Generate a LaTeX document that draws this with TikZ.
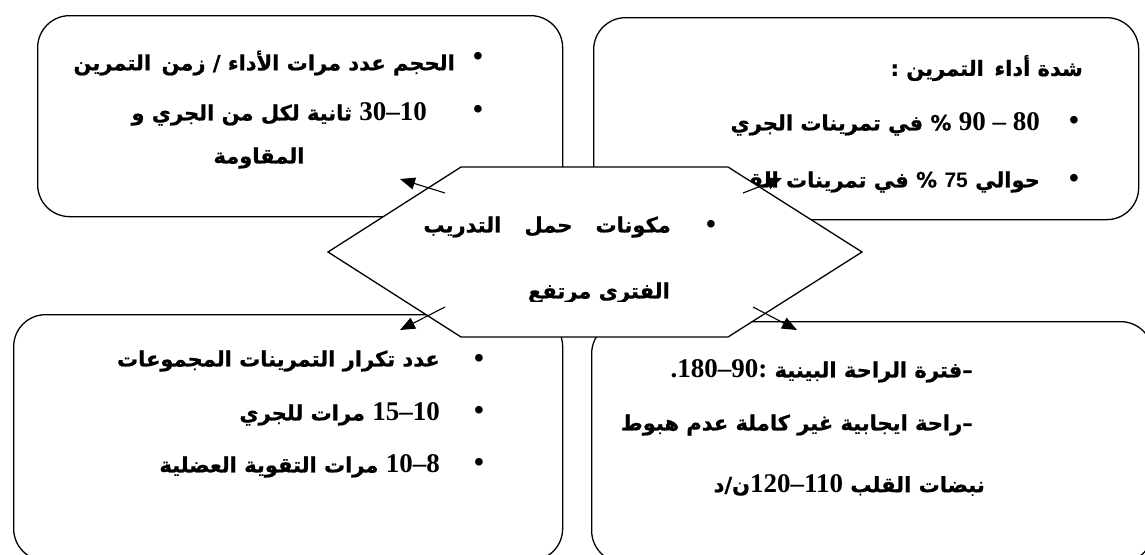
\documentclass[tikz,border=0pt]{standalone}
\usepackage{fontspec}
\usetikzlibrary{arrows.meta}
\TeXXeTstate=1
\newfontfamily\arfont[Script=Arabic, BoldFeatures={FakeBold=0.8}]{DejaVu Sans}
\newfontfamily\numfont{Liberation Serif}
\newfontfamily\sansnum{Liberation Sans}
\newcommand\Nm[1]{\beginL{\numfont\bfseries\fontsize{27}{30}\selectfont #1}\endL}
\tikzset{
  box/.style={draw, line width=1.3pt, rounded corners=32pt, anchor=north west, inner sep=0pt},
  hexa/.style={draw, line width=1.3pt, fill=white},
  conn/.style={line width=1.1pt, -{Triangle[length=15pt,width=12pt]}},
  txt/.style={inner sep=0pt, font=\arfont\bfseries\fontsize{21}{24}\selectfont},
  bul/.style={inner sep=0pt, font=\sansnum\fontsize{28}{30}\selectfont}
}
\begin{document}
\begin{tikzpicture}[x=1pt,y=-1pt]
\useasboundingbox (0,0) rectangle (1145,554);
\clip (0,0) rectangle (1145,554);
% boxes
\node[box, minimum width=525pt, minimum height=201pt] (tl) at (37,15) {};
\node[box, minimum width=545pt, minimum height=202pt] (tr) at (593,17) {};
\node[box, minimum width=549pt, minimum height=246pt] (bl) at (13,314) {};
\node[box, minimum width=561pt, minimum height=241pt] (br) at (591,321) {};
% top-left texts
\node[bul] (tlb1) at (478,59) {•};
\node[txt, anchor=east] (tl1) at (455,63) {\beginR الحجم عدد مرات الأداء / زمن\hspace{0.5em}التمرين\endR};
\node[bul] (tlb2) at (478,112) {•};
\node[txt, anchor=east] (tl2) at (427,114) {\beginR\Nm{30–10} ثانية لكل من الجري و\endR};
\node[txt] (tl3) at (259,158) {\beginR المقاومة\endR};
% top-right texts
\node[txt, anchor=east] (tr1) at (1083,68) {\beginR شدة أداء\hspace{0.5em}التمرين :\endR};
\node[bul] (trb2) at (1074,123) {•};
\node[txt, anchor=east] (tr2) at (1040,124) {\beginR\Nm{90 – 80} \% في تمرينات الجري\endR};
\node[bul] (trb3) at (1074,181) {•};
\node[txt, anchor=east] (tr3) at (1040,182) {\beginR حوالي \beginL{\sansnum\bfseries 75}\endL{} \% في تمرينات القوة\endR};
% bottom-left texts
\node[bul] (blb1) at (479,361) {•};
\node[txt, anchor=east] (bl1) at (440,361) {\beginR عدد تكرار التمرينات المجموعات\endR};
\node[bul] (blb2) at (479,413) {•};
\node[txt, anchor=east] (bl2) at (440,414) {\beginR\Nm{15–10} مرات للجري\endR};
\node[bul] (blb3) at (479,465) {•};
\node[txt, anchor=east] (bl3) at (440,466) {\beginR\Nm{10–8} مرات التقوية العضلية\endR};
% bottom-right texts
\node[txt, anchor=east] (br1) at (973,371) {\beginR–فترة الراحة البينية \Nm{.180–90:}\endR};
\node[txt, anchor=east] (br2) at (973,425) {\beginR–راحة ايجابية غير كاملة عدم هبوط\endR};
\node[txt, anchor=east] (br3) at (985,485) {\beginR نبضات القلب \Nm{120–110}ن/د\endR};
% hexagon
\coordinate (h1) at (328,252);
\coordinate (h2) at (461,167);
\coordinate (h3) at (728,167);
\coordinate (h4) at (862,252);
\coordinate (h5) at (728,337);
\coordinate (h6) at (461,337);
\draw[hexa] (h1) -- (h2) -- (h3) -- (h4) -- (h5) -- (h6) -- cycle;
\node[bul] (cb) at (711,227) {•};
\node[txt, anchor=east] (c1) at (671,227) {\beginR مكونات\hspace{1.1em}حمل\hspace{1.1em}التدريب\endR};
\begin{scope}
\clip (461,170) rectangle (728,301);
\node[txt, anchor=east] (c2) at (670,293) {\beginR الفترى مرتفع\endR};
\end{scope}
% connectors
\coordinate (a1s) at (445,193); \coordinate (a1e) at (400,179);
\coordinate (a2s) at (743,193); \coordinate (a2e) at (782,178);
\coordinate (a3s) at (445,307); \coordinate (a3e) at (400,330);
\coordinate (a4s) at (753,307); \coordinate (a4e) at (797,330);
\draw[conn] (a1s) -- (a1e);
\draw[conn] (a2s) -- (a2e);
\draw[conn] (a3s) -- (a3e);
\draw[conn] (a4s) -- (a4e);
\end{tikzpicture}
\end{document}
